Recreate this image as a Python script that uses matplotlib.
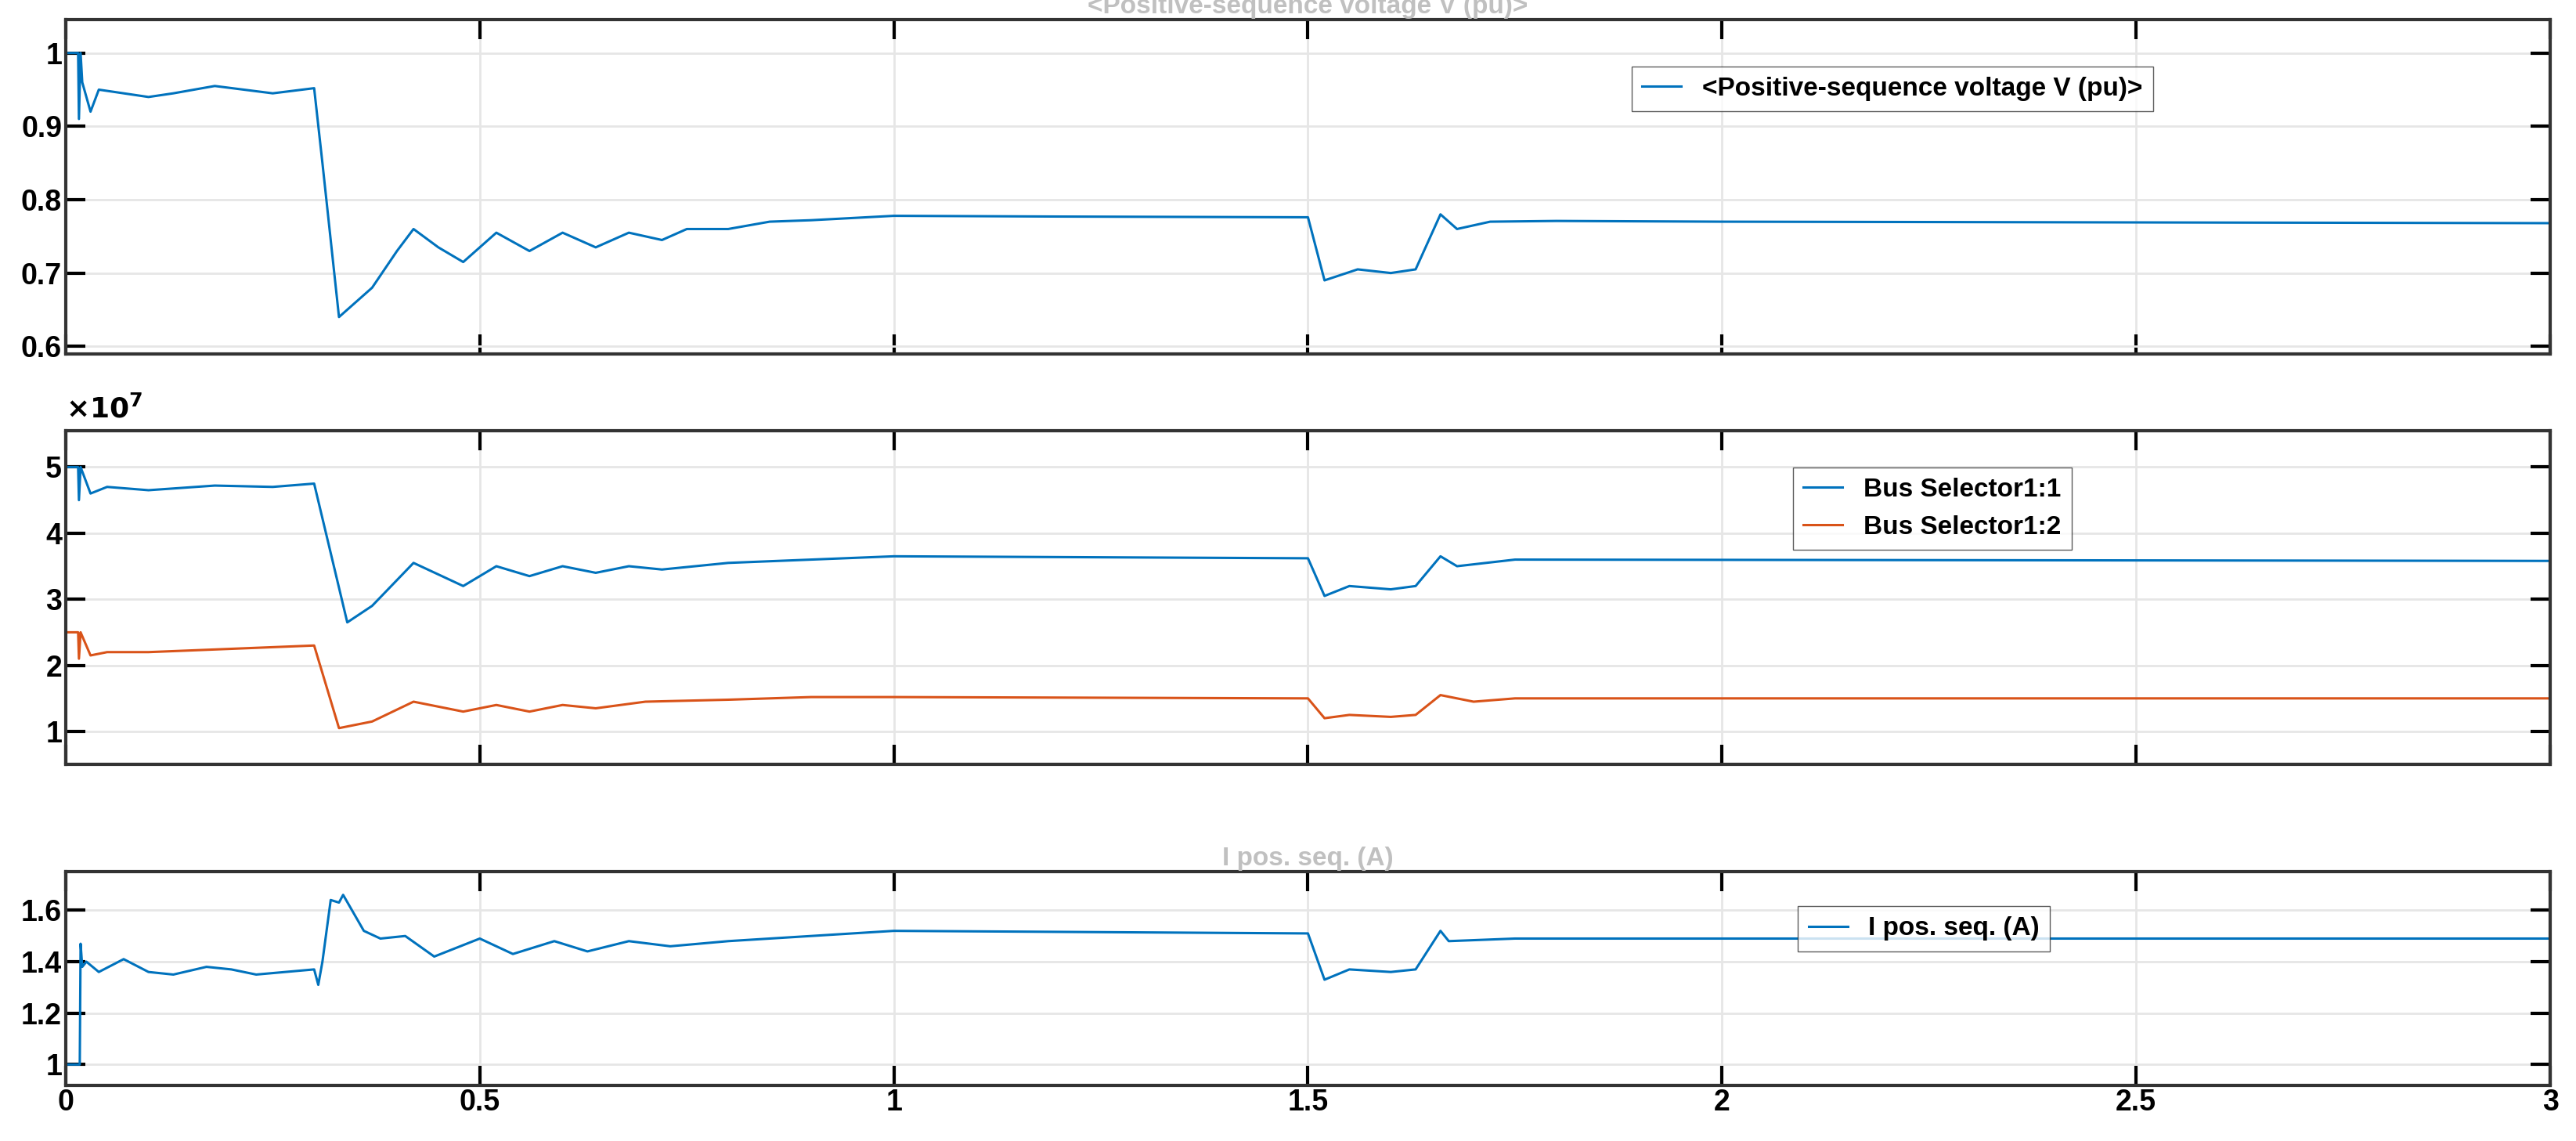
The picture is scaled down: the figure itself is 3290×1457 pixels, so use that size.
import matplotlib
matplotlib.use("Agg")
import matplotlib.pyplot as plt

t_v = [0, 0.015, 0.016, 0.018, 0.02, 0.03, 0.04, 0.1, 0.13, 0.18, 0.25, 0.3, 0.31, 0.33, 0.34, 0.37, 0.40, 0.42, 0.45, 0.48, 0.52, 0.56, 0.6, 0.64, 0.68, 0.72, 0.75, 0.8, 0.85, 0.9, 1.0, 1.2, 1.5, 1.52, 1.56, 1.6, 1.63, 1.66, 1.68, 1.72, 1.8, 2.0, 3.0]
v_pu = [1.0, 1.0, 0.91, 1.0, 0.96, 0.92, 0.95, 0.94, 0.945, 0.955, 0.945, 0.952, 0.85, 0.64, 0.65, 0.68, 0.73, 0.76, 0.735, 0.715, 0.755, 0.73, 0.755, 0.735, 0.755, 0.745, 0.76, 0.76, 0.77, 0.772, 0.778, 0.777, 0.776, 0.69, 0.705, 0.70, 0.705, 0.78, 0.76, 0.77, 0.771, 0.77, 0.768]

t_b1 = [0, 0.015, 0.016, 0.018, 0.03, 0.05, 0.1, 0.18, 0.25, 0.3, 0.34, 0.37, 0.42, 0.48, 0.52, 0.56, 0.6, 0.64, 0.68, 0.72, 0.8, 0.9, 1.0, 1.5, 1.52, 1.55, 1.6, 1.63, 1.66, 1.68, 1.75, 3.0]
bus1 = [5.0, 5.0, 4.5, 5.0, 4.6, 4.7, 4.65, 4.72, 4.7, 4.75, 2.65, 2.9, 3.55, 3.2, 3.5, 3.35, 3.5, 3.4, 3.5, 3.45, 3.55, 3.6, 3.65, 3.62, 3.05, 3.2, 3.15, 3.2, 3.65, 3.5, 3.6, 3.58]
t_b2 = [0, 0.015, 0.016, 0.018, 0.03, 0.05, 0.1, 0.2, 0.3, 0.33, 0.37, 0.42, 0.48, 0.52, 0.56, 0.6, 0.64, 0.7, 0.8, 0.9, 1.0, 1.5, 1.52, 1.55, 1.6, 1.63, 1.66, 1.7, 1.75, 3.0]
bus2 = [2.5, 2.5, 2.1, 2.5, 2.15, 2.2, 2.2, 2.25, 2.3, 1.05, 1.15, 1.45, 1.3, 1.4, 1.3, 1.4, 1.35, 1.45, 1.48, 1.52, 1.52, 1.5, 1.2, 1.25, 1.22, 1.25, 1.55, 1.45, 1.5, 1.5]

t_i = [0, 0.017, 0.018, 0.02, 0.025, 0.04, 0.07, 0.1, 0.13, 0.17, 0.2, 0.23, 0.3, 0.305, 0.31, 0.32, 0.33, 0.335, 0.36, 0.38, 0.41, 0.445, 0.5, 0.54, 0.59, 0.63, 0.68, 0.73, 0.8, 0.9, 1.0, 1.5, 1.52, 1.55, 1.6, 1.63, 1.66, 1.67, 1.75, 3.0]
i_pos = [1.0, 1.0, 1.47, 1.38, 1.4, 1.36, 1.41, 1.36, 1.35, 1.38, 1.37, 1.35, 1.37, 1.31, 1.4, 1.64, 1.63, 1.66, 1.52, 1.49, 1.5, 1.42, 1.49, 1.43, 1.48, 1.44, 1.48, 1.46, 1.48, 1.5, 1.52, 1.51, 1.33, 1.37, 1.36, 1.37, 1.52, 1.48, 1.49, 1.49]

BLUE = "#0072BD"
ORANGE = "#D95319"
plt.rcParams['font.family'] = ['Liberation Sans', 'DejaVu Sans']
plt.rcParams['font.weight'] = 'bold'

fig = plt.figure(figsize=(32.9, 14.57), dpi=100)
L, W = 0.0255, 0.9645
ax1 = fig.add_axes([L, 0.690, W, 0.2925])
ax2 = fig.add_axes([L, 0.330, W, 0.2925])
ax3 = fig.add_axes([L, 0.049, W, 0.187])

def style(ax):
    ax.set_xlim(0, 3)
    ax.set_xticks([0, 0.5, 1, 1.5, 2, 2.5, 3])
    ax.grid(True, color="#e6e6e6", lw=2)
    for s in ax.spines.values():
        s.set_linewidth(3)
        s.set_color("#333333")
    ax.tick_params(direction="in", length=18, width=3, labelsize=27, top=True, right=True)
    for lab in ax.get_xticklabels() + ax.get_yticklabels():
        lab.set_fontweight("bold")

leg = dict(fancybox=False, edgecolor="#333333", handlelength=1.5, prop={'weight': 'bold', 'size': 24})

ax1.plot(t_v, v_pu, color=BLUE, lw=2.2, label="<Positive-sequence voltage V (pu)>")
ax1.set_ylim(0.59, 1.045)
ax1.set_yticks([0.6, 0.7, 0.8, 0.9, 1])
ax1.set_yticklabels(["0.6", "0.7", "0.8", "0.9", "1"])
ax1.set_title("<Positive-sequence voltage V (pu)>", color="#c0c0c0", fontsize=24, fontweight="bold", pad=6)
ax1.legend(loc="upper left", bbox_to_anchor=(0.625, 0.90), **leg)

ax2.plot(t_b1, bus1, color=BLUE, lw=2.2, label="Bus Selector1:1")
ax2.plot(t_b2, bus2, color=ORANGE, lw=2.2, label="Bus Selector1:2")
ax2.set_ylim(0.5, 5.55)
ax2.set_yticks([1, 2, 3, 4, 5])
ax2.text(0.0, 1.02, r"$\times10^{7}$", transform=ax2.transAxes, fontsize=26, va="bottom")
ax2.legend(loc="upper left", bbox_to_anchor=(0.69, 0.93), **leg)

ax3.plot(t_i, i_pos, color=BLUE, lw=2.2, label="I pos. seq. (A)")
ax3.set_ylim(0.92, 1.75)
ax3.set_yticks([1, 1.2, 1.4, 1.6])
ax3.set_yticklabels(["1", "1.2", "1.4", "1.6"])
ax3.set_title("I pos. seq. (A)", color="#c0c0c0", fontsize=24, fontweight="bold", pad=6)
ax3.legend(loc="upper left", bbox_to_anchor=(0.692, 0.90), **leg)

for ax in (ax1, ax2, ax3):
    style(ax)
ax1.set_xticklabels([])
ax2.set_xticklabels([])
ax3.set_xticklabels(["0", "0.5", "1", "1.5", "2", "2.5", "3"])
for lab in ax3.get_xticklabels():
    lab.set_fontweight("bold")

fig.savefig("out.png", dpi=100)
